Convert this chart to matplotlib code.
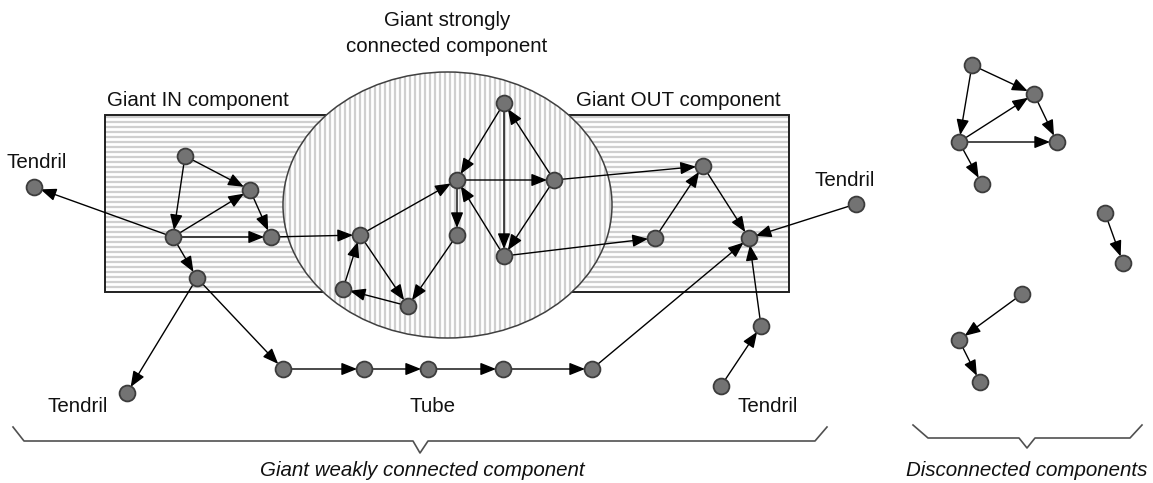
import numpy as np
import matplotlib
matplotlib.use("Agg")
import matplotlib.pyplot as plt
from matplotlib.patches import Rectangle, Ellipse, FancyArrowPatch, ArrowStyle

plt.rcParams["font.family"] = ["Liberation Sans", "DejaVu Sans"]

# node positions (pixel coordinates of the original picture, y downwards)
node_x = [185, 250, 173, 271, 197,           # 0-4 IN component
          34, 127,                           # 5-6 left tendrils
          283, 364, 428, 503, 592,           # 7-11 tube
          504, 457, 554, 457, 504, 360, 343, 408,  # 12-19 SCC
          703, 655, 749,                     # 20-22 OUT component
          856, 761, 721,                     # 23-25 right tendrils
          972, 1034, 959, 1057, 982,         # 26-30 disconnected
          1105, 1123,                        # 31-32
          1022, 959, 980]                    # 33-35
node_y = [156, 190, 237, 237, 278,
          187, 393,
          369, 369, 369, 369, 369,
          103, 180, 180, 235, 256, 235, 289, 306,
          166, 238, 238,
          204, 326, 386,
          65, 94, 142, 142, 184,
          213, 263,
          294, 340, 382]

edges = [(0, 1), (0, 2), (2, 1), (1, 3), (2, 3), (2, 5), (2, 4),
         (4, 6), (4, 7), (7, 8), (8, 9), (9, 10), (10, 11), (11, 22),
         (3, 17), (12, 13), (12, 16), (14, 12), (13, 14), (14, 16),
         (16, 13), (13, 15), (15, 19), (17, 13), (17, 19), (19, 18),
         (18, 17), (14, 20), (16, 21), (21, 20), (20, 22), (23, 22),
         (24, 22), (25, 24),
         (26, 27), (26, 28), (28, 27), (27, 29), (28, 29), (28, 30),
         (31, 32), (33, 34), (34, 35)]

labels = ["Giant strongly", "connected component", "Giant IN component",
          "Giant OUT component", "Tendril", "Tendril", "Tendril", "Tube",
          "Tendril"]
label_x = [447, 447, 198, 678, 37, 845, 78, 432, 768]
label_y = [20, 47, 101, 101, 163, 180, 407, 407, 407]

brace_labels = ["Giant weakly connected component", "Disconnected components"]

W, H = 1153, 483
fig = plt.figure(figsize=(W / 100, H / 100), dpi=100)
ax = fig.add_axes([0, 0, 1, 1])
ax.set_xlim(0, W)
ax.set_ylim(H, 0)
ax.axis("off")

stripe = "#cfcfcf"

# IN/OUT band with horizontal stripes
rect = Rectangle((105, 115), 684, 177, facecolor="white", edgecolor="none", zorder=1)
ax.add_patch(rect)
ax.hlines(np.arange(117, 292, 5), 105, 789, color=stripe, lw=1.6,
          zorder=1.1, clip_path=rect)
ax.add_patch(Rectangle((105, 115), 684, 177, fill=False, edgecolor="#202020",
                       lw=1.4, zorder=1.2))

# SCC ellipse with vertical stripes
ell = Ellipse((447.5, 205), 329, 266, facecolor="white", edgecolor="none", zorder=2)
ax.add_patch(ell)
ax.vlines(np.arange(285, 612, 5), 70, 340, color=stripe, lw=1.6,
          zorder=2.1, clip_path=ell)
ax.add_patch(Ellipse((447.5, 205), 329, 266, fill=False, edgecolor="#404040",
                     lw=1.1, zorder=2.2))

# edges
style = ArrowStyle("-|>", head_length=9.5, head_width=3.8)
for a, b in edges:
    arr = FancyArrowPatch((node_x[a], node_y[a]), (node_x[b], node_y[b]),
                          arrowstyle=style, mutation_scale=1, shrinkA=0,
                          shrinkB=5.0, color="black", lw=1.0, zorder=3)
    ax.add_patch(arr)

# nodes
ax.scatter(node_x, node_y, s=130, color="#737373", edgecolor="#3c3c3c",
           linewidth=1.3, zorder=4)

for t, x, y in zip(labels, label_x, label_y):
    ax.text(x, y, t, ha="center", va="center", fontsize=14.8, color="#111111",
            zorder=5)

# braces
bc = "#505050"
ax.plot([13, 24, 413, 420, 428, 815, 827], [427, 441, 441, 453, 441, 441, 427],
        color=bc, lw=1.2)
ax.plot([913, 928, 1019, 1027, 1035, 1130, 1142], [425, 438, 438, 448, 438, 438, 425],
        color=bc, lw=1.2)
ax.text(422, 471, brace_labels[0], ha="center", va="center", fontsize=14.8,
        style="italic", color="#111111")
ax.text(1027, 471, brace_labels[1], ha="center", va="center", fontsize=14.8,
        style="italic", color="#111111")

fig.savefig("out.png", dpi=100)
